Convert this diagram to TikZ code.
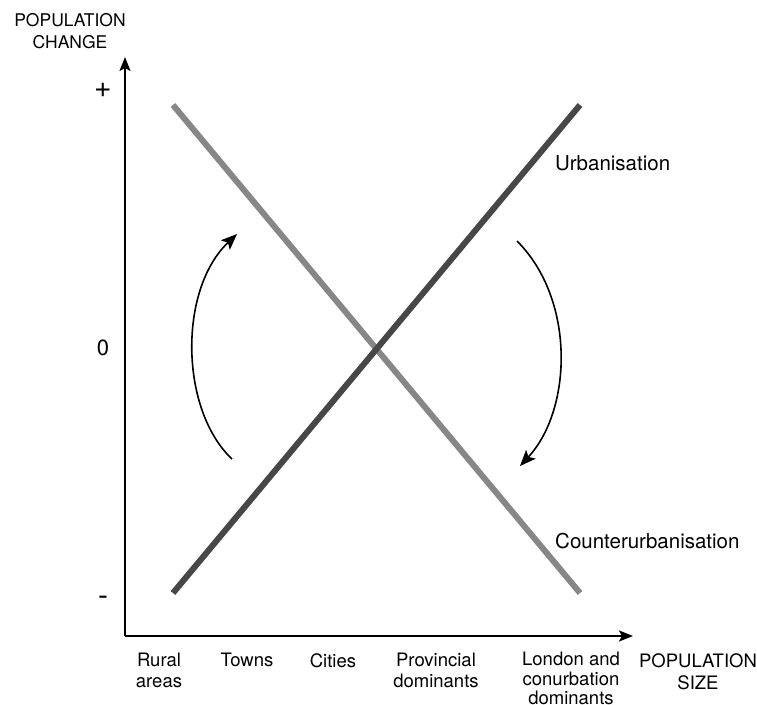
\documentclass[tikz,border=0pt]{standalone}
\usepackage{fontspec}
\setmainfont{TeX Gyre Heros}
\usetikzlibrary{arrows.meta}
\begin{document}
\begin{tikzpicture}[x=1pt,y=-1pt,
  axis/.style={line width=1.8pt,-{Stealth[length=14pt,width=11pt,inset=3pt]}},
  trend/.style={line width=6pt},
  cycle/.style={line width=1.6pt,-{Stealth[length=16pt,width=13pt,inset=3.5pt]}},
  lbl/.style={font=\fontsize{18.5}{21}\selectfont,align=center,inner sep=0pt},
  ttl/.style={font=\fontsize{17.5}{22}\selectfont,align=center,inner sep=0pt},
  tick/.style={font=\fontsize{22}{24}\selectfont,inner sep=0pt},
  linelbl/.style={font=\fontsize{20.5}{24}\selectfont,anchor=west,inner sep=0pt}]
\useasboundingbox (0,0) rectangle (757,704);
% axes
\coordinate (O) at (125,636);
\coordinate (ytip) at (125,57);
\coordinate (xtip) at (633,636);
\draw[axis] (O) -- (ytip);
\draw[axis] (O) -- (xtip);
% tick labels
\node[tick,font=\fontsize{30}{30}\selectfont] (plus) at (103,90) {+};
\node[tick] (zero) at (103,348) {0};
\node[tick,font=\fontsize{30}{30}\selectfont] (minus) at (103,601) {-};
% trend lines
\coordinate (c1) at (173,105);
\coordinate (c2) at (580,593);
\coordinate (u1) at (173,593);
\coordinate (u2) at (580,105);
\draw[trend,color=black!47] (c1) -- (c2);
\draw[trend,color=black!72] (u1) -- (u2);
% labels of lines
\node[linelbl] (urb) at (555,163) {Urbanisation};
\node[linelbl] (counter) at (555,541) {Counterurbanisation};
% cycle arrows
\coordinate (la) at (232,459);
\coordinate (lb) at (237,234);
\draw[cycle] (la) .. controls (180,410) and (178,290) .. (lb);
\coordinate (ra) at (517,241);
\coordinate (rb) at (520,466);
\draw[cycle] (ra) .. controls (576,300) and (572,410) .. (rb);
% axis titles
\node[ttl] (ytitle) at (70,31) {POPULATION\\CHANGE};
\node[ttl,font=\fontsize{18.5}{22}\selectfont] (xtitle) at (698,672) {POPULATION\\SIZE};
% categories
\node[lbl,anchor=north] (rural) at (159,653) {Rural\\areas};
\node[lbl,anchor=north] (towns) at (247,653) {Towns};
\node[lbl,anchor=north] (cities) at (333,653) {Cities};
\node[lbl,anchor=north] (prov) at (436,653) {Provincial\\dominants};
\node[lbl,anchor=north,font=\fontsize{18.5}{19.5}\selectfont] (london) at (571,652) {London and\\conurbation\\dominants};
\end{tikzpicture}
\end{document}
